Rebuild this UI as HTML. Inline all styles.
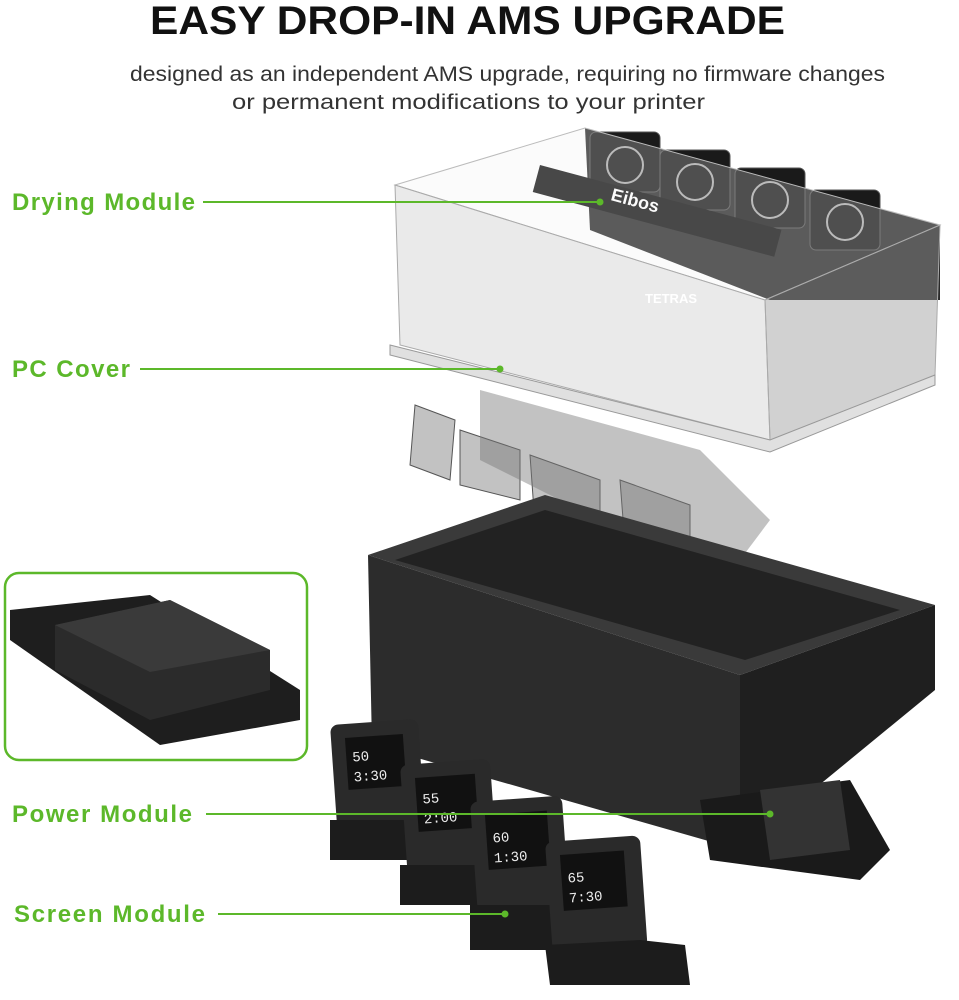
<!DOCTYPE html>
<html><head><meta charset="utf-8"><style>
html,body{margin:0;padding:0;background:#fff;width:959px;height:1000px;overflow:hidden}
svg{display:block}
</style></head><body>
<svg width="959" height="1000" viewBox="0 0 959 1000" xmlns="http://www.w3.org/2000/svg">
<rect width="959" height="1000" fill="#fff"/>
<text x="150" y="34" textLength="635" lengthAdjust="spacingAndGlyphs" font-family="Liberation Sans, sans-serif" font-weight="bold" font-size="40" fill="#111">EASY DROP-IN AMS UPGRADE</text>
<text x="130" y="81" textLength="755" lengthAdjust="spacingAndGlyphs" font-family="Liberation Sans, sans-serif" font-size="21" fill="#333">designed as an independent AMS upgrade, requiring no firmware changes</text>
<text x="232" y="109" textLength="473" lengthAdjust="spacingAndGlyphs" font-family="Liberation Sans, sans-serif" font-size="21" fill="#333">or permanent modifications to your printer</text>

<!-- fans (drying module) -->
<polygon points="585,128 940,225 940,300 770,300 590,230" fill="#2a2a2a"/>
<g fill="#1a1a1a" stroke="#555" stroke-width="1">
<rect x="590" y="132" width="70" height="60" rx="6"/>
<rect x="660" y="150" width="70" height="60" rx="6"/>
<rect x="735" y="168" width="70" height="60" rx="6"/>
<rect x="810" y="190" width="70" height="60" rx="6"/>
</g>
<g fill="none" stroke="#aaa" stroke-width="2">
<circle cx="625" cy="165" r="18"/><circle cx="695" cy="182" r="18"/>
<circle cx="770" cy="200" r="18"/><circle cx="845" cy="222" r="18"/>
</g>
<rect x="540" y="165" width="250" height="28" fill="#111" transform="rotate(15 540 165)"/>
<text x="610" y="200" font-family="Liberation Sans, sans-serif" font-weight="bold" font-size="18" fill="#fff" transform="rotate(15 610 200)">Eibos</text>

<!-- PC cover -->
<polygon points="395,185 585,128 940,225 765,300" fill="#eeeeee" fill-opacity="0.25" stroke="#bbb"/>
<polygon points="395,185 765,300 770,440 400,345" fill="#d0d0d0" fill-opacity="0.45" stroke="#aaa"/>
<polygon points="765,300 940,225 935,375 770,440" fill="#999" fill-opacity="0.45" stroke="#aaa"/>
<polygon points="390,345 770,440 935,375 935,385 770,452 390,355" fill="#e0e0e0" stroke="#999"/>
<text x="645" y="303" font-family="Liberation Sans, sans-serif" font-weight="bold" font-size="13" fill="#fff">TETRAS</text>

<!-- filament guides -->
<g fill="#9a9a9a" fill-opacity="0.6" stroke="#555">
<polygon points="415,405 455,420 450,480 410,465"/>
<polygon points="460,430 520,450 520,500 460,485"/>
<polygon points="530,455 600,480 600,540 535,525"/>
<polygon points="620,480 690,505 690,560 625,545"/>
</g>
<polygon points="480,390 700,450 770,520 740,560 600,520 480,460" fill="#777" fill-opacity="0.45"/>

<!-- base box -->
<polygon points="368,555 545,495 935,605 740,675" fill="#3a3a3a"/>
<polygon points="395,560 545,510 900,610 745,660" fill="#222"/>
<polygon points="368,555 740,675 740,850 372,745" fill="#2c2c2c"/>
<polygon points="740,675 935,605 935,690 740,850" fill="#1f1f1f"/>

<!-- power module plate -->
<polygon points="700,800 850,780 890,850 860,880 710,860" fill="#1a1a1a"/>
<polygon points="760,790 840,780 850,850 770,860" fill="#333"/>

<!-- screen modules -->
<g>
<g transform="translate(330,725) rotate(-4)"><rect width="88" height="105" rx="8" fill="#2a2a2a"/><rect x="14" y="14" width="58" height="52" fill="#111"/><text x="20" y="38" font-family="Liberation Mono, monospace" font-size="14" fill="#eee">50</text><text x="20" y="58" font-family="Liberation Mono, monospace" font-size="14" fill="#eee">3:30</text></g>
<rect x="330" y="820" width="80" height="40" fill="#1c1c1c"/>
<g transform="translate(400,765) rotate(-4)"><rect width="90" height="108" rx="8" fill="#2a2a2a"/><rect x="14" y="14" width="60" height="54" fill="#111"/><text x="20" y="40" font-family="Liberation Mono, monospace" font-size="14" fill="#eee">55</text><text x="20" y="60" font-family="Liberation Mono, monospace" font-size="14" fill="#eee">2:00</text></g>
<rect x="400" y="865" width="85" height="40" fill="#1c1c1c"/>
<g transform="translate(470,802) rotate(-4)"><rect width="92" height="110" rx="8" fill="#2a2a2a"/><rect x="14" y="14" width="62" height="55" fill="#111"/><text x="20" y="42" font-family="Liberation Mono, monospace" font-size="14" fill="#eee">60</text><text x="20" y="62" font-family="Liberation Mono, monospace" font-size="14" fill="#eee">1:30</text></g>
<rect x="470" y="905" width="90" height="45" fill="#1c1c1c"/>
<g transform="translate(545,842) rotate(-4)"><rect width="95" height="112" rx="8" fill="#2a2a2a"/><rect x="14" y="14" width="64" height="56" fill="#111"/><text x="20" y="42" font-family="Liberation Mono, monospace" font-size="14" fill="#eee">65</text><text x="20" y="62" font-family="Liberation Mono, monospace" font-size="14" fill="#eee">7:30</text></g>
<polygon points="545,945 640,940 685,945 690,985 550,985" fill="#1c1c1c"/>
</g>

<!-- inset -->
<rect x="5" y="573" width="302" height="187" rx="14" fill="#fff" stroke="#5cb82a" stroke-width="2.5"/>
<polygon points="10,610 150,595 300,690 300,720 160,745 10,640" fill="#1e1e1e"/>
<polygon points="55,625 170,600 270,650 270,690 150,720 55,670" fill="#2b2b2b"/>
<polygon points="55,625 170,600 270,650 150,672" fill="#3a3a3a"/>

<!-- labels -->
<g font-family="Liberation Sans, sans-serif" font-weight="bold" font-size="24" fill="#5cb82a" lengthAdjust="spacingAndGlyphs">
<text x="12" y="210" textLength="183">Drying Module</text>
<text x="12" y="377" textLength="118">PC Cover</text>
<text x="12" y="822" textLength="180">Power Module</text>
<text x="14" y="922" textLength="191">Screen Module</text>
</g>
<g stroke="#5cb82a" stroke-width="2">
<line x1="203" y1="202" x2="600" y2="202"/>
<line x1="140" y1="369" x2="500" y2="369"/>
<line x1="206" y1="814" x2="770" y2="814"/>
<line x1="218" y1="914" x2="505" y2="914"/>
</g>
<g fill="#5cb82a"><circle cx="600" cy="202" r="3.5"/><circle cx="500" cy="369" r="3.5"/><circle cx="770" cy="814" r="3.5"/><circle cx="505" cy="914" r="3.5"/></g>
</svg>
</body></html>
